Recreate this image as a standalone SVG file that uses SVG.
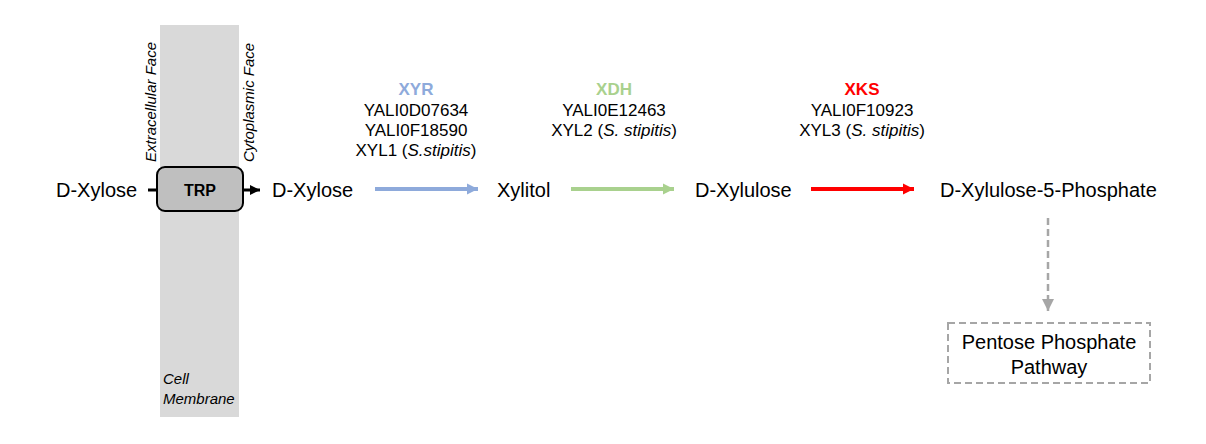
<svg xmlns="http://www.w3.org/2000/svg" width="1206" height="444" viewBox="0 0 1206 444">
<style>
text{font-family:"Liberation Sans",Arial,sans-serif;fill:#000}
.lbl{font-size:20px}
.gene{font-size:17px;text-anchor:middle}
.enz{font-size:17px;font-weight:bold;text-anchor:middle}
.face{font-size:15px;font-style:italic}
</style>
<defs>
<marker id="ahK" viewBox="0 0 10 10" refX="10" refY="5" markerWidth="3.5" markerHeight="4" orient="auto" markerUnits="strokeWidth"><path d="M0,0L10,5L0,10z" fill="#000"/></marker>
<marker id="ahB" viewBox="0 0 10 10" refX="10" refY="5" markerWidth="2.8" markerHeight="3" orient="auto" markerUnits="strokeWidth"><path d="M0,0L10,5L0,10z" fill="#8eaadb"/></marker>
<marker id="ahG" viewBox="0 0 10 10" refX="10" refY="5" markerWidth="2.8" markerHeight="3" orient="auto" markerUnits="strokeWidth"><path d="M0,0L10,5L0,10z" fill="#a9d18e"/></marker>
<marker id="ahR" viewBox="0 0 10 10" refX="10" refY="5" markerWidth="2.8" markerHeight="3" orient="auto" markerUnits="strokeWidth"><path d="M0,0L10,5L0,10z" fill="#ff0000"/></marker>
<marker id="ahD" viewBox="0 0 10 10" refX="10" refY="5" markerWidth="5" markerHeight="5" orient="auto" markerUnits="strokeWidth"><path d="M0,0L10,5L0,10z" fill="#a6a6a6"/></marker>
</defs>
<rect width="1206" height="444" fill="#fff"/>
<g id="membrane">
<rect x="160" y="25" width="79" height="392" fill="#d9d9d9"/>
<text class="face" x="163" y="384">Cell</text>
<text class="face" x="163" y="404">Membrane</text>
<text class="face" transform="translate(156,162) rotate(-90)">Extracellular Face</text>
<text class="face" transform="translate(254,162) rotate(-90)">Cytoplasmic Face</text>
</g>
<g id="connectors">
<line x1="148" y1="190" x2="166" y2="190" stroke="#000" stroke-width="3"/>
<line x1="231" y1="190" x2="260" y2="190" stroke="#000" stroke-width="3" marker-end="url(#ahK)"/>
<line x1="375" y1="189" x2="478" y2="189" stroke="#8eaadb" stroke-width="4" marker-end="url(#ahB)"/>
<line x1="571" y1="189" x2="674" y2="189" stroke="#a9d18e" stroke-width="4" marker-end="url(#ahG)"/>
<line x1="811" y1="189" x2="914" y2="189" stroke="#ff0000" stroke-width="4" marker-end="url(#ahR)"/>
<line x1="1048" y1="218" x2="1048" y2="311" stroke="#a6a6a6" stroke-width="2.5" stroke-dasharray="7,4" marker-end="url(#ahD)"/>
</g>
<g id="trp">
<rect x="157" y="167" width="86" height="44" rx="8" fill="#bfbfbf" stroke="#000" stroke-width="2"/>
<text x="200" y="196" text-anchor="middle" style="font-size:16px;font-weight:bold">TRP</text>
</g>
<g id="dxylose-out"><text class="lbl" x="56" y="197">D-Xylose</text></g>
<g id="dxylose-in"><text class="lbl" x="272" y="197">D-Xylose</text></g>
<g id="xyr">
<text class="enz" x="416" y="95" style="fill:#8eaadb">XYR</text>
<text class="gene" x="416" y="116">YALI0D07634</text>
<text class="gene" x="416" y="136">YALI0F18590</text>
<text class="gene" x="416" y="156">XYL1 (<tspan font-style="italic">S.stipitis</tspan>)</text>
</g>
<g id="xylitol"><text class="lbl" x="497" y="197">Xylitol</text></g>
<g id="xdh">
<text class="enz" x="614" y="95" style="fill:#a9d18e">XDH</text>
<text class="gene" x="614" y="116">YALI0E12463</text>
<text class="gene" x="614" y="136">XYL2 (<tspan font-style="italic">S. stipitis</tspan>)</text>
</g>
<g id="dxylulose"><text class="lbl" x="695" y="197">D-Xylulose</text></g>
<g id="xks">
<text class="enz" x="862" y="95" style="fill:#ff0000">XKS</text>
<text class="gene" x="862" y="116">YALI0F10923</text>
<text class="gene" x="862" y="136">XYL3 (<tspan font-style="italic">S. stipitis</tspan>)</text>
</g>
<g id="x5p"><text class="lbl" x="940" y="197">D-Xylulose-5-Phosphate</text></g>
<g id="ppp">
<rect x="948" y="323" width="202" height="60" fill="none" stroke="#a6a6a6" stroke-width="2" stroke-dasharray="7,4"/>
<text class="lbl" x="1049" y="349" text-anchor="middle">Pentose Phosphate</text>
<text class="lbl" x="1049" y="374" text-anchor="middle">Pathway</text>
</g>
</svg>
